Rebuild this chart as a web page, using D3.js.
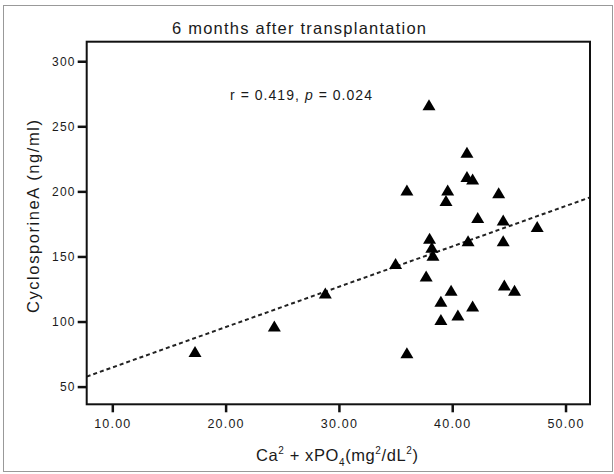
<!DOCTYPE html>
<html>
<head>
<meta charset="utf-8">
<script src="https://cdn.jsdelivr.net/npm/d3@7/dist/d3.min.js"></script>
<style>
  html, body { margin: 0; padding: 0; background: #fff; }
  svg { display: block; }
  text { font-family: Arial, "Liberation Sans", Helvetica, sans-serif; fill: #1a1a1a; }
</style>
</head>
<body>
<script>
// ---- data ----
const caPo4 = [17.3, 24.3, 28.8, 35.0, 36.0, 36.0, 37.7, 37.95, 38.0, 38.2, 38.3, 39.0, 39.0, 39.45, 39.6,
               39.9, 40.5, 41.3, 41.3, 41.8, 41.4, 41.8, 42.25, 44.1, 44.5, 44.5, 44.6, 45.5, 47.5];
const cyclosporine = [77, 96.5, 122, 144.6, 201, 76, 135, 266.5, 164, 157, 151, 115.6, 101.6, 193, 201,
                      124, 105, 230, 211.5, 209.5, 162, 112, 180, 199, 178, 162, 128, 124, 173];
const xTicks = [10, 20, 30, 40, 50];
const yTicks = [50, 100, 150, 200, 250, 300];
const fitIntercept = 33.7;
const fitSlope = 3.10;
const titleText = "6 months after transplantation";
const yLabelText = "CyclosporineA (ng/ml)";

const W = 614, H = 474;
const svg = d3.select("body").append("svg").attr("width", W).attr("height", H);

// outer gray border
svg.append("rect").attr("x", 3.5).attr("y", 5.5).attr("width", 609).attr("height", 466)
  .attr("fill", "none").attr("stroke", "#999").attr("stroke-width", 1);

const pL = 86.7, pR = 590, pT = 41.7, pB = 404.3;
const x = d3.scaleLinear().domain([7.74, 52.16]).range([pL, pR]);
const y = d3.scaleLinear().domain([36.4, 315]).range([pB, pT]);

// regression line (clipped to plot)
svg.append("clipPath").attr("id", "clip").append("rect")
  .attr("x", pL).attr("y", pT).attr("width", pR - pL).attr("height", pB - pT);
const xd = x.domain();
svg.append("line")
  .attr("clip-path", "url(#clip)")
  .attr("x1", x(xd[0])).attr("y1", y(fitIntercept + fitSlope * xd[0]))
  .attr("x2", x(xd[1])).attr("y2", y(fitIntercept + fitSlope * xd[1]))
  .attr("stroke", "#222").attr("stroke-width", 2).attr("stroke-dasharray", "4,3");

// points
const tri = "M0,-5.5L6.5,5.5L-6.5,5.5Z";
svg.append("g").selectAll("path").data(caPo4.map((v, i) => [v, cyclosporine[i]]))
  .join("path")
  .attr("d", tri)
  .attr("transform", d => `translate(${x(d[0])},${y(d[1])})`)
  .attr("fill", "#000");

// frame
svg.append("rect").attr("x", pL).attr("y", pT).attr("width", pR - pL).attr("height", pB - pT)
  .attr("fill", "none").attr("stroke", "#111").attr("stroke-width", 2);

// axes
const yAxis = svg.append("g").attr("transform", `translate(${pL},0)`)
  .call(d3.axisLeft(y).tickValues(yTicks).tickSize(9).tickPadding(2).tickFormat(d3.format("d")));
yAxis.select(".domain").remove();
yAxis.selectAll(".tick line").attr("stroke", "#111").attr("stroke-width", 2.5);
yAxis.selectAll(".tick text").attr("font-size", 12).attr("letter-spacing", 1.2)
  .attr("font-family", "Arial, 'Liberation Sans', sans-serif").attr("fill", "#1a1a1a");

const xAxis = svg.append("g").attr("transform", `translate(0,${pB})`)
  .call(d3.axisBottom(x).tickValues(xTicks).tickSize(8).tickPadding(7).tickFormat(d3.format(".2f")));
xAxis.select(".domain").remove();
xAxis.selectAll(".tick line").attr("stroke", "#111").attr("stroke-width", 2.5);
xAxis.selectAll(".tick text").attr("font-size", 12.5).attr("letter-spacing", 1.2)
  .attr("font-family", "Arial, 'Liberation Sans', sans-serif").attr("fill", "#1a1a1a");

// title
svg.append("text").attr("x", 172).attr("y", 34).attr("font-size", 16.5)
  .attr("textLength", 254).attr("lengthAdjust", "spacing").text(titleText);

// annotation
const ann = svg.append("text").attr("x", 230).attr("y", 99.5).attr("font-size", 14)
  .attr("textLength", 142).attr("lengthAdjust", "spacing");
ann.append("tspan").text("r = 0.419, ");
ann.append("tspan").attr("font-style", "italic").text("p");
ann.append("tspan").text(" = 0.024");

// y label
svg.append("text").attr("transform", "translate(39,313) rotate(-90)")
  .attr("font-size", 16.5).attr("textLength", 193).attr("lengthAdjust", "spacing").text(yLabelText);

// x label
const xl = svg.append("text").attr("x", 256).attr("y", 461).attr("font-size", 16.5).attr("letter-spacing", 0.6);
xl.append("tspan").text("Ca");
xl.append("tspan").attr("font-size", 10).attr("dy", -7).text("2");
xl.append("tspan").attr("dy", 7).text(" + xPO");
xl.append("tspan").attr("font-size", 10).attr("dy", 5).text("4");
xl.append("tspan").attr("dy", -5).text("(mg");
xl.append("tspan").attr("font-size", 10).attr("dy", -7).text("2");
xl.append("tspan").attr("dy", 7).text("/dL");
xl.append("tspan").attr("font-size", 10).attr("dy", -7).text("2");
xl.append("tspan").attr("dy", 7).text(")");
</script>
</body>
</html>
